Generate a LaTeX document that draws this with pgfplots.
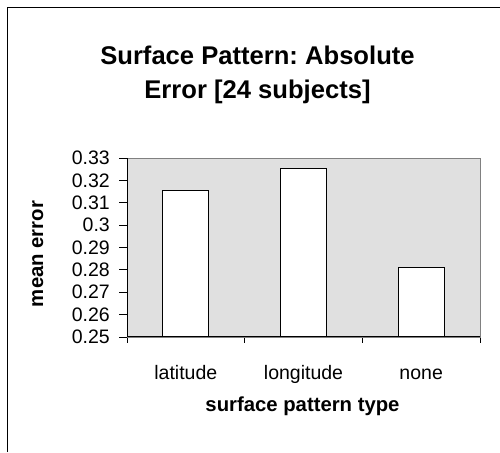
\documentclass[border=0pt]{standalone}
\usepackage{fontspec}
\setmainfont{Liberation Sans}
\usepackage{pgfplots}
\pgfplotsset{compat=1.18}
\definecolor{plotbg}{RGB}{224,224,224}
\definecolor{framegray}{RGB}{128,128,128}
\frenchspacing
\begin{document}
\begin{tikzpicture}[x=1pt,y=1pt]
\path[use as bounding box] (0,0) rectangle (500,452);
\draw[line width=1pt] (7,0) -- (7,444) -- (500,444);
\node[anchor=base,font=\bfseries\fontsize{25.6}{30}\selectfont] at (257.5,387) {Surface Pattern: Absolute};
\node[anchor=base,font=\bfseries\fontsize{25.6}{30}\selectfont] at (257.5,353.7) {Error [24 subjects]};
\node[anchor=base,font=\bfseries\fontsize{20.3}{24}\selectfont] at (302.5,40.3) {surface pattern type};
\node[anchor=base,rotate=90,font=\bfseries\fontsize{20.3}{24}\selectfont] at (43,198) {mean error};
\begin{axis}[
  at={(127pt,115pt)}, anchor=south west,
  scale only axis, width=353pt, height=179pt,
  xmin=-0.5, xmax=2.5, ymin=0.25, ymax=0.33,
  axis background/.style={fill=plotbg},
  axis line style={draw=framegray, line width=0.8pt},
  ytick={0.25,0.26,0.27,0.28,0.29,0.30,0.31,0.32,0.33},
  yticklabels={0.25,0.26,0.27,0.28,0.29,0.3,0.31,0.32,0.33},
  xtick={0,1,2},
  xticklabels={latitude,longitude,none},
  minor xtick={-0.5,0.5,1.5,2.5},
  tick align=outside,
  major tick length=8pt,
  minor tick length=6pt,
  x tick style={draw=none},
  minor x tick style={draw=black, line width=0.8pt},
  y tick style={draw=black, line width=0.8pt},
  tick pos=left,
  /pgf/number format/assume math mode=true,
  ticklabel style={font=\fontsize{19.5}{22}\selectfont},
  yticklabel style={anchor=east, inner sep=0pt, xshift=-9pt},
  xticklabel style={anchor=base, inner sep=0pt, yshift=-34.7pt},
  ybar, bar width=0.39,
  clip=true,
]
\addplot[fill=white, draw=black, line width=0.9pt] coordinates {(0,0.3154) (1,0.3255) (2,0.281)};
\draw[black, line width=1pt] (rel axis cs:0,0) -- (rel axis cs:0,1);
\draw[black, line width=1pt] (rel axis cs:0,0) -- (rel axis cs:1,0);
\end{axis}
\end{tikzpicture}
\end{document}
